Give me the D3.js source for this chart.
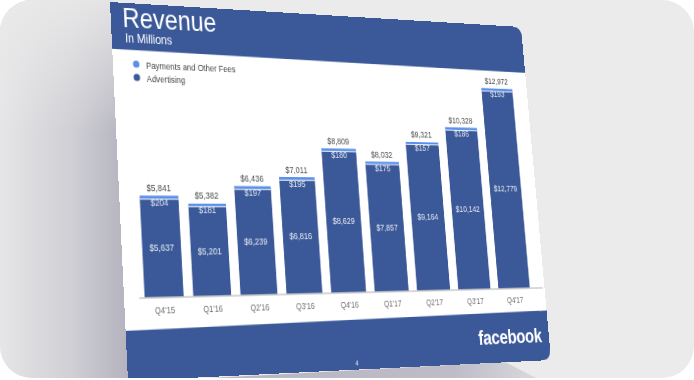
<!DOCTYPE html>
<html><head><meta charset="utf-8">
<script src="https://cdn.jsdelivr.net/npm/d3@7"></script>
<style>
html,body{margin:0;padding:0;background:#fff;width:694px;height:380px;overflow:hidden;}
#card{position:absolute;left:0;top:0;width:694px;height:378px;border-radius:32px;overflow:hidden;background:#ebebeb;}
#bg{position:absolute;left:0;top:0;}
#slide{position:absolute;left:0;top:0;width:520px;height:360px;transform-origin:0 0;}
text{font-family:"Liberation Sans",Arial,sans-serif;}
</style></head><body>
<div id="card"><svg id="bg" width="694" height="378"></svg><div id="slide"></div></div>
<script>
// ---- data ----
const categories = ["Q4'15","Q1'16","Q2'16","Q3'16","Q4'16","Q1'17","Q2'17","Q3'17","Q4'17"];
const advertising = [5637,5201,6239,6816,8629,7857,9164,10142,12779];
const payments = [204,181,197,195,180,175,157,186,193];
const totals = [5841,5382,6436,7011,8809,8032,9321,10328,12972];
const seriesNames = ["Payments and Other Fees","Advertising"];
const seriesColors = ["#5b8fe8","#3b5998"];

// ---- background card ----
const bg = d3.select("#bg");
const defs = bg.append("defs");
const g1 = defs.append("linearGradient").attr("id","lsh").attr("x1",0).attr("x2",1).attr("y1",0).attr("y2",0);
g1.append("stop").attr("offset",0).attr("stop-color","#e6e6e8");
g1.append("stop").attr("offset",0.55).attr("stop-color","#cfcfd4");
g1.append("stop").attr("offset",1).attr("stop-color","#b2b1bd");
const g2 = defs.append("linearGradient").attr("id","tfade").attr("x1",0).attr("x2",0).attr("y1",0).attr("y2",1);
g2.append("stop").attr("offset",0).attr("stop-color","#ebebeb").attr("stop-opacity",0.85);
g2.append("stop").attr("offset",0.35).attr("stop-color","#ebebeb").attr("stop-opacity",0);
const g3 = defs.append("linearGradient").attr("id","bsh").attr("x1",0).attr("x2",1).attr("y1",0).attr("y2",0);
g3.append("stop").attr("offset",0).attr("stop-color","#b3b2be");
g3.append("stop").attr("offset",0.8).attr("stop-color","#bdbcc7");
g3.append("stop").attr("offset",1).attr("stop-color","#d8d8dc");
bg.append("path").attr("d","M0,0 L113,0 L131,378 L0,378 Z").attr("fill","url(#lsh)");
bg.append("path").attr("d","M0,0 L113,0 L131,378 L0,378 Z").attr("fill","url(#tfade)");
bg.append("path").attr("d","M120,383 L505,362 L536,378 L120,378 Z").attr("fill","url(#bsh)");

// ---- slide (flat), then projected ----
const W = 520, H = 360;
const quad = [[110,2],[521,27],[551,360],[128,381]];
function quadMatrix(W,H,q){
  const [x0,y0]=q[0],[x1,y1]=q[1],[x2,y2]=q[2],[x3,y3]=q[3];
  const dx1=x1-x2, dx2=x3-x2, dx3=x0-x1+x2-x3;
  const dy1=y1-y2, dy2=y3-y2, dy3=y0-y1+y2-y3;
  const den=dx1*dy2-dx2*dy1;
  const g=(dx3*dy2-dx2*dy3)/den, h=(dx1*dy3-dx3*dy1)/den;
  const a=x1-x0+g*x1, b=x3-x0+h*x3, c=x0;
  const d=y1-y0+g*y1, e=y3-y0+h*y3, f=y0;
  return `matrix3d(${a/W},${d/W},0,${g/W},${b/H},${e/H},0,${h/H},0,0,1,0,${c},${f},0,1)`;
}
d3.select("#slide").style("transform", quadMatrix(W,H,quad));
const svg = d3.select("#slide").append("svg").attr("width",W).attr("height",H);
const r = 12;
const shape = `M0,0 H${W-r} Q${W},0 ${W},${r} V${H-r} Q${W},${H} ${W-r},${H} H0 Z`;
svg.append("defs").append("clipPath").attr("id","sc").append("path").attr("d",shape);
const base = svg.append("g").attr("clip-path","url(#sc)");
base.append("rect").attr("width",W).attr("height",H).attr("fill","#ffffff");
base.append("path").attr("d",`M0,0 H${W} V51 L0,46 Z`).attr("fill","#3b5998");
base.append("path").attr("d",`M0,314 L${W},308 V${H} H0 Z`).attr("fill","#3b5998");

svg.append("text").attr("x",13).attr("y",23.5).attr("font-size",27).attr("fill","#fff").text("Revenue");
svg.append("text").attr("x",15).attr("y",38.7).attr("font-size",12).attr("fill","#fff").text("In Millions");
svg.append("text").attr("x",510).attr("y",341).attr("text-anchor","end").attr("font-size",20.5)
  .attr("font-weight","bold").attr("letter-spacing",-0.4).attr("fill","#fff").text("facebook");
svg.append("text").attr("x",265).attr("y",356).attr("text-anchor","middle").attr("font-size",7)
  .attr("fill","#e0e6f0").text("4");

// legend
const leg = svg.append("g");
seriesNames.forEach((s,i)=>{
  leg.append("circle").attr("cx",26).attr("cy",60+i*13).attr("r",3.6).attr("fill",seriesColors[i]);
  leg.append("text").attr("x",37).attr("y",64+i*13).attr("font-size",8.9).attr("fill","#444").text(s);
});

// scales
const x = d3.scaleBand().domain(categories).range([16,517]).paddingInner(0.2).paddingOuter(0.222).align(0.27);
const y = d3.scaleLinear().domain([0,14000]).range([283.5, 52.9]);
const bw = x.bandwidth();

const bars = svg.append("g");
categories.forEach((c,i)=>{
  const x0 = x(c);
  bars.append("rect").attr("x",x0).attr("width",bw).attr("y",y(advertising[i])).attr("height",y(0)-y(advertising[i])).attr("fill",seriesColors[1]);
  bars.append("rect").attr("x",x0).attr("width",bw).attr("y",y(totals[i])).attr("height",y(advertising[i])-y(totals[i])).attr("fill",seriesColors[0]);
  bars.append("line").attr("x1",x0).attr("x2",x0+bw).attr("y1",y(advertising[i])).attr("y2",y(advertising[i])).attr("stroke","#fff").attr("stroke-width",0.9);
  const cx = x0+bw/2;
  bars.append("text").attr("x",cx).attr("y",y(totals[i])-4.5).attr("text-anchor","middle").attr("font-size",9).attr("fill","#4a4a4a").text("$"+d3.format(",")(totals[i]));
  bars.append("text").attr("x",cx).attr("y",y(totals[i])+9.5).attr("text-anchor","middle").attr("font-size",9).attr("fill","#dfe5f2").text("$"+d3.format(",")(payments[i]));
  bars.append("text").attr("x",cx).attr("y",(y(0)+y(advertising[i]))/2+3).attr("text-anchor","middle").attr("font-size",9).attr("fill","#e8ecf5").text("$"+d3.format(",")(advertising[i]));
});

const ax = svg.append("g").attr("transform",`translate(0,${y(0)})`)
  .call(d3.axisBottom(x).tickSize(0).tickPadding(9));
ax.select(".domain").attr("stroke","#b0b0b0").attr("stroke-width",1);
ax.selectAll("text").attr("font-size",8.5).attr("fill","#707070").attr("font-family","Liberation Sans, Arial, sans-serif");
</script>
</body></html>
